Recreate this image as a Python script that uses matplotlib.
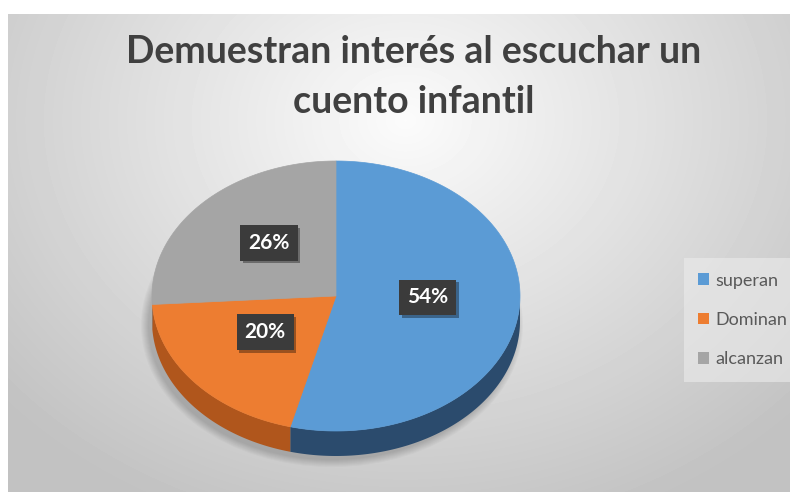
import numpy as np
import matplotlib
matplotlib.use("Agg")
import matplotlib.pyplot as plt
from matplotlib.patches import Polygon, Patch, Ellipse
import matplotlib.patheffects as pe

plt.rcParams['font.family'] = ['Lato', 'DejaVu Sans']

# --- datos ---
categorias = ['superan', 'Dominan', 'alcanzan']
porcentajes = [54, 20, 26]
colores = ['#5b9bd5', '#ed7d31', '#a5a5a5']
colores_lado = ['#2b4b6d', '#b0561c', '#6e6e6e']
titulo = ['Demuestran interés al escuchar un', 'cuento infantil']

W, H = 790, 492
fig = plt.figure(figsize=(W / 100, H / 100), dpi=100)
ax = fig.add_axes([0, 0, 1, 1])
ax.set_xlim(0, W)
ax.set_ylim(H, 0)
ax.axis('off')

# fondo con degradado radial (estilo Excel)
yy, xx = np.mgrid[14:H, 8:W]
r = np.sqrt(((xx - 405) / 520.0) ** 2 + ((yy - 120) / 420.0) ** 2)
fondo = np.clip(0.985 - 0.22 * r, 0.76, 1.0)
ax.imshow(fondo, cmap='gray', vmin=0, vmax=1, extent=[8, W, H, 14],
          interpolation='bilinear', zorder=0, aspect='auto')

# geometria del pastel 3D
cx, cy, rx, ry, prof = 336, 296, 184, 135, 25

# sombra suave bajo el pastel
for k in range(8):
    ax.add_patch(Ellipse((cx - 4, cy + prof + 4), 2 * rx + 14 - 2 * k, 2 * ry + 14 - 2 * k,
                         color='k', alpha=0.025, lw=0, zorder=1))

total = sum(porcentajes)
ang = 90.0
tramos = []
for v in porcentajes:
    a1 = ang - 360.0 * v / total
    tramos.append((a1, ang))
    ang = a1

def punto(t, dy=0):
    t = np.radians(t)
    return cx + rx * np.cos(t), cy - ry * np.sin(t) + dy

# paredes laterales (solo mitad frontal)
for (lo, hi), col in zip(tramos, colores_lado):
    a, b = max(lo, -180), min(hi, 0)
    if a >= b:
        continue
    t = np.linspace(a, b, 120)
    xs, ys = punto(t)
    xb, yb = punto(t[::-1], prof)
    pts = np.column_stack([np.concatenate([xs, xb]), np.concatenate([ys, yb])])
    ax.add_patch(Polygon(pts, closed=True, fc=col, ec='none', zorder=2))

# caras superiores
for (lo, hi), col in zip(tramos, colores):
    t = np.linspace(hi, lo, 200)
    xs, ys = punto(t)
    pts = np.column_stack([np.concatenate([[cx], xs]), np.concatenate([[cy], ys])])
    ax.add_patch(Polygon(pts, closed=True, fc=col, ec=col, lw=0.5, zorder=3))

# etiquetas de porcentaje
for (lo, hi), v in zip(tramos, porcentajes):
    x, y = punto((lo + hi) / 2)
    x = cx + (x - cx) * 0.5
    y = cy + (y - cy) * 0.5 - 7
    txt = ax.text(x, y, f'{v}%', ha='center', va='center', color='white',
                  fontsize=15, fontweight='bold', zorder=5,
                  bbox=dict(boxstyle='square,pad=0.38', fc='#3b3b3b', ec='none'))
    txt.get_bbox_patch().set_path_effects(
        [pe.SimplePatchShadow(offset=(2, -2), shadow_rgbFace='k', alpha=0.35), pe.Normal()])

# titulo
ax.text(414, 63, titulo[0], ha='center', va='baseline', fontsize=27,
        fontweight='bold', color='#404040', zorder=5)
ax.text(414, 113, titulo[1], ha='center', va='baseline', fontsize=27,
        fontweight='bold', color='#404040', zorder=5)

# leyenda
handles = [Patch(fc=c, ec='none', label=l) for c, l in zip(colores, categorias)]
leg = ax.legend(handles=handles, loc='center left', bbox_to_anchor=(684 / W, 1 - 320 / H),
                bbox_transform=fig.transFigure, frameon=True, fancybox=False,
                fontsize=13, handlelength=0.6, handleheight=0.6, handletextpad=0.35,
                labelspacing=1.3, borderpad=0.8, borderaxespad=0)
leg.get_frame().set_facecolor('#ececec')
leg.get_frame().set_alpha(0.6)
leg.get_frame().set_edgecolor('none')
for t in leg.get_texts():
    t.set_color('#595959')

fig.savefig('out.png', dpi=100, facecolor='white')
